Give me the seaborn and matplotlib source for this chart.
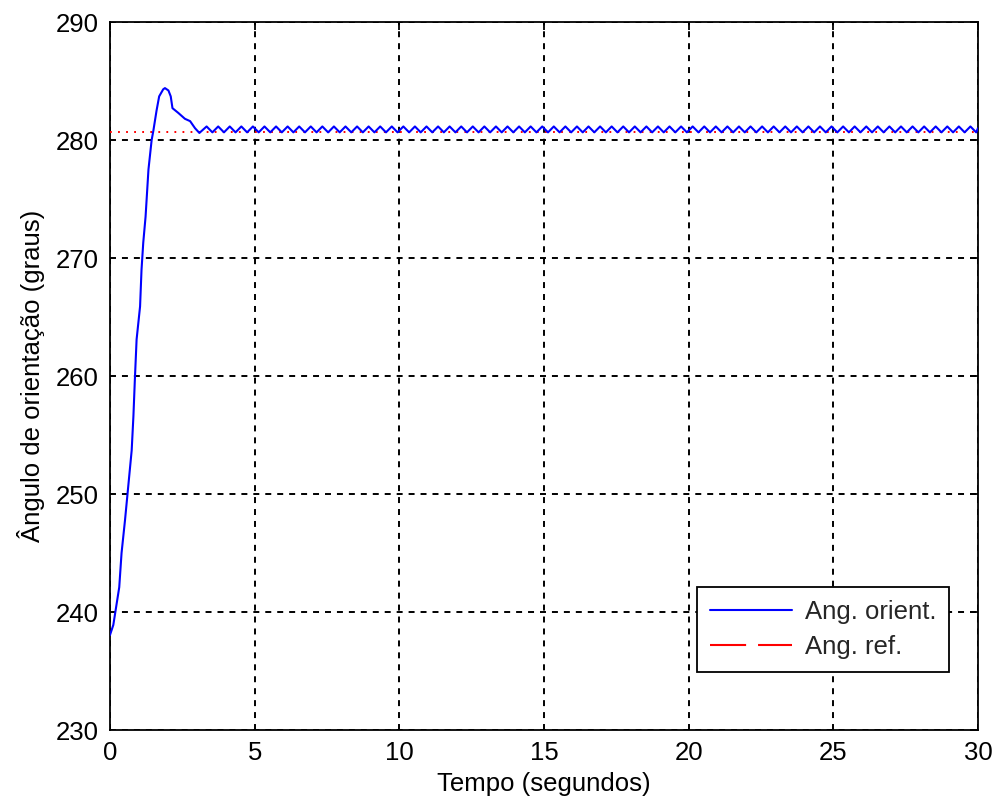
import numpy as np
import pandas as pd
import matplotlib
matplotlib.use("Agg")
import matplotlib.pyplot as plt
from matplotlib.lines import Line2D
import seaborn as sns

# Orientation angle: transient part (time in s, angle in degrees)
t_transient = [0.0, 0.115, 0.23, 0.32, 0.40, 0.52, 0.63, 0.75, 0.81, 0.86,
               0.92, 1.04, 1.09, 1.15, 1.23, 1.33, 1.44, 1.50, 1.61, 1.70,
               1.84, 1.90, 2.02, 2.10, 2.16, 2.36, 2.59, 2.77, 2.94, 3.09]
ang_transient = [238.05, 238.9, 240.7, 242.1, 245.0, 247.8, 250.6, 253.7, 256.6, 259.7,
                 263.1, 265.9, 269.0, 271.3, 273.5, 277.5, 280.0, 280.8, 282.5, 283.7,
                 284.3, 284.4, 284.2, 283.7, 282.7, 282.3, 281.8, 281.6, 281.0, 280.6]

# Orientation angle: steady-state limit cycle, sampled every 0.2 s from 3.34 s
t_steady_start, t_steady_step = 3.34, 0.2
ang_steady = [
    281.15, 280.65, 281.15, 280.65, 281.15, 280.65, 281.15, 280.65, 281.15, 280.65,
    281.15, 280.65, 281.15, 280.65, 281.15, 280.65, 281.15, 280.65, 281.15, 280.65,
    281.15, 280.65, 281.15, 280.65, 281.15, 280.65, 281.15, 280.65, 281.15, 280.65,
    281.15, 280.65, 281.15, 280.65, 281.15, 280.65, 281.15, 280.65, 281.15, 280.65,
    281.15, 280.65, 281.15, 280.65, 281.15, 280.65, 281.15, 280.65, 281.15, 280.65,
    281.15, 280.65, 281.15, 280.65, 281.15, 280.65, 281.15, 280.65, 281.15, 280.65,
    281.15, 280.65, 281.15, 280.65, 281.15, 280.65, 281.15, 280.65, 281.15, 280.65,
    281.15, 280.65, 281.15, 280.65, 281.15, 280.65, 281.15, 280.65, 281.15, 280.65,
    281.15, 280.65, 281.15, 280.65, 281.15, 280.65, 281.15, 280.65, 281.15, 280.65,
    281.15, 280.65, 281.15, 280.65, 281.15, 280.65, 281.15, 280.65, 281.15, 280.65,
    281.15, 280.65, 281.15, 280.65, 281.15, 280.65, 281.15, 280.65, 281.15, 280.65,
    281.15, 280.65, 281.15, 280.65, 281.15, 280.65, 281.15, 280.65, 281.15, 280.65,
    281.15, 280.65, 281.15, 280.65, 281.15, 280.65, 281.15, 280.65, 281.15, 280.65,
    281.15, 280.65, 281.15, 280.65,
]
t_end, ang_end = 30.0, 281.0

# Reference angle
t_ref = [0.0, 30.0]
ang_ref = [280.7, 280.7]

x_ticks = [0, 5, 10, 15, 20, 25, 30]
y_ticks = [230, 240, 250, 260, 270, 280, 290]

t_steady = t_steady_start + t_steady_step * np.arange(len(ang_steady))
orient = pd.DataFrame({
    "t": np.concatenate([t_transient, t_steady, [t_end]]),
    "ang": np.concatenate([ang_transient, ang_steady, [ang_end]]),
})
ref = pd.DataFrame({"t": t_ref, "ang": ang_ref})

sns.set_theme(style="white")
plt.rcParams["font.family"] = ["Liberation Sans", "DejaVu Sans"]
plt.rcParams["lines.scale_dashes"] = False

fig = plt.figure(figsize=(9.98, 8.07), dpi=100)
ax = fig.add_axes([0.1102, 0.0954, 0.8697, 0.8773])

sns.lineplot(data=ref, x="t", y="ang", ax=ax, color=(1, 0, 0), linewidth=1.4,
             linestyle=(0, (1.3, 4.5)), estimator=None, legend=False, zorder=3)
sns.lineplot(data=orient, x="t", y="ang", ax=ax, color=(0, 0, 1), linewidth=1.5,
             estimator=None, sort=False, legend=False, zorder=4)

ax.set_xlim(0, 30)
ax.set_ylim(230, 290)
ax.set_xticks(x_ticks)
ax.set_yticks(y_ticks)
ax.grid(True, color="black", linewidth=1.4, linestyle=(0, (4.3, 4.3)))
ax.set_axisbelow(True)
for s in ax.spines.values():
    s.set_color("black")
    s.set_linewidth(1.3)
ax.tick_params(direction="in", length=6, width=1.3, top=True, right=True,
               labelsize=18.5, pad=8, colors="black")
ax.set_xlabel("Tempo (segundos)", fontsize=18.5, color="black", labelpad=5)
ax.set_ylabel("Ângulo de orientação (graus)", fontsize=18.5, color="black", labelpad=8)

handles = [
    Line2D([], [], color=(0, 0, 1), linewidth=1.5),
    Line2D([], [], color=(1, 0, 0), linewidth=1.5, linestyle=(0, (26, 8.6))),
]
leg = ax.legend(handles, ["Ang. orient.", "Ang. ref."], loc="lower right",
                bbox_to_anchor=(0.9666, 0.0819), borderaxespad=0, fontsize=18.5,
                frameon=True, fancybox=False, framealpha=1, edgecolor="black",
                handlelength=3.2, handletextpad=0.5, labelspacing=0.45,
                borderpad=0.5)
leg.get_frame().set_linewidth(1.3)

fig.savefig("out.png", dpi=100, facecolor="white")
